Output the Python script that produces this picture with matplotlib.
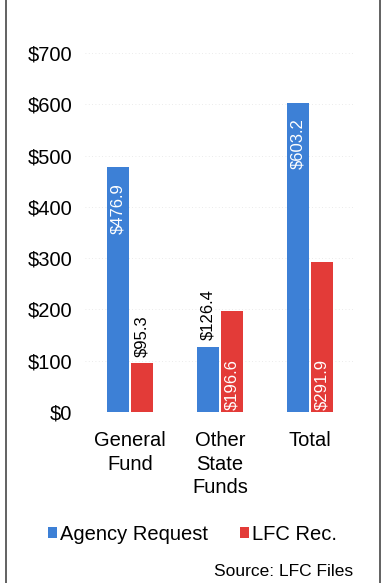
import numpy as np
import matplotlib
matplotlib.use('Agg')
import matplotlib.pyplot as plt
from matplotlib.lines import Line2D

plt.rcParams['font.family'] = ['Liberation Sans', 'DejaVu Sans']

categories = ['General\nFund', 'Other\nState\nFunds', 'Total']
agency = [476.9, 126.4, 603.2]
lfc = [95.3, 196.6, 291.9]
yticks = [0, 100, 200, 300, 400, 500, 600, 700]

blue = '#3d80d6'
red = '#e33b38'

fig = plt.figure(figsize=(3.85, 5.83), dpi=100)
ax = fig.add_axes([0.221, 0.2933, 0.70, 0.6158])

x = np.arange(len(categories))
w = 0.245
b1 = ax.bar(x - 0.01 - w / 2, agency, w, color=blue, label='Agency Request')
b2 = ax.bar(x + 0.01 + w / 2, lfc, w, color=red, label='LFC Rec.')

# value labels: inside the bar when it is tall enough, above it otherwise
for rect, v in zip(b1, agency):
    cx = rect.get_x() + rect.get_width() / 2
    if v > 300:
        ax.text(cx, v - 30, f'${v:.1f}', rotation=90, ha='center', va='top',
                color='white', fontsize=12)
    else:
        ax.text(cx, v + 14, f'${v:.1f}', rotation=90, ha='center', va='bottom',
                color='black', fontsize=12)
for rect, v in zip(b2, lfc):
    cx = rect.get_x() + rect.get_width() / 2
    if v > 150:
        ax.text(cx, 4, f'${v:.1f}', rotation=90, ha='center', va='bottom',
                color='white', fontsize=12)
    else:
        ax.text(cx, v + 12, f'${v:.1f}', rotation=90, ha='center', va='bottom',
                color='black', fontsize=12)

ax.set_xlim(-0.5, 2.5)
ax.set_ylim(0, 700)
ax.set_yticks(yticks)
ax.set_yticklabels([f'${t}' for t in yticks], fontsize=14.5)
ax.set_xticks(x)
ax.set_xticklabels(categories, fontsize=14.5, linespacing=1.27)
ax.tick_params(length=0)
ax.tick_params(axis='y', pad=9)
ax.tick_params(axis='x', pad=14)
ax.yaxis.grid(True, linestyle=(0, (1, 3)), color='#e4e4e4', linewidth=0.6)
ax.set_axisbelow(True)
for s in ax.spines.values():
    s.set_visible(False)

fig.legend(loc='center', bbox_to_anchor=(0.50, 0.084), ncol=2, frameon=False,
           fontsize=14.5, handlelength=0.45, handleheight=0.45, handletextpad=0.15,
           columnspacing=1.6)
fig.text(0.917, 0.019, 'Source: LFC Files', ha='right', va='center', fontsize=12.5)

# frame edges on the left and right
fig.add_artist(Line2D([0.015, 0.015], [0.0, 1.0], transform=fig.transFigure,
                      color='#555555', linewidth=1.3))
fig.add_artist(Line2D([0.987, 0.987], [0.0, 1.0], transform=fig.transFigure,
                      color='#555555', linewidth=1.3))

fig.savefig('out.png', dpi=100)
